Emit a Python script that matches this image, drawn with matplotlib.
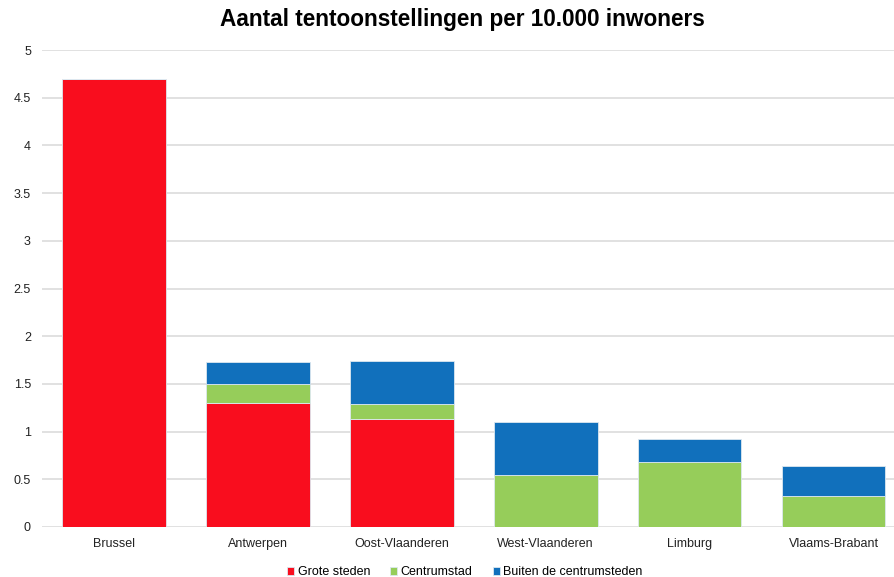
import matplotlib
matplotlib.use("Agg")
import matplotlib.pyplot as plt
import numpy as np

plt.rcParams['font.family'] = ['Liberation Sans', 'DejaVu Sans']

provinces = ['Brussel', 'Antwerpen', 'Oost-Vlaanderen', 'West-Vlaanderen',
             'Limburg', 'Vlaams-Brabant']
grote_steden = [4.70, 1.30, 1.13, 0.0, 0.0, 0.0]
centrumstad = [0.0, 0.20, 0.16, 0.54, 0.68, 0.32]
buiten = [0.0, 0.23, 0.45, 0.56, 0.24, 0.315]
series_names = ['Grote steden', 'Centrumstad', 'Buiten de centrumsteden']
colors = ['#F90D1E', '#96CD5A', '#1170BC']

fig = plt.figure(figsize=(8.94, 5.77), dpi=100)
ax = fig.add_axes([0.047, 0.0867, 0.953, 0.8266])

x = np.arange(len(provinces))
bottom = np.zeros(len(provinces))
for vals, name, col in zip([grote_steden, centrumstad, buiten], series_names, colors):
    vals = np.array(vals)
    ax.bar(x, vals, 0.72, bottom=bottom, color=col, label=name,
           edgecolor='#dde8f0', linewidth=0.6, zorder=3)
    bottom += vals

ax.set_xlim(-0.5, 5.42)
ax.set_ylim(0, 5)
ax.set_yticks(np.arange(0, 5.01, 0.5))
ax.set_yticklabels(['0', '0.5', '1', '1.5', '2', '2.5', '3', '3.5', '4', '4.5', '5'])
ax.set_xticks(x)
ax.set_xticklabels(provinces)
ax.tick_params(axis='both', length=0, labelsize=9, colors='#222222')
ax.tick_params(axis='y', pad=8)
ax.tick_params(axis='x', pad=8)
ax.grid(axis='y', color='#dcdcdc', linewidth=1.2, zorder=0)
for s in ax.spines.values():
    s.set_visible(False)

fig.text(0.5176, 0.955, 'Aantal tentoonstellingen per 10.000 inwoners',
         fontsize=16.3, fontweight='bold', ha='center', va='baseline')

fig.legend(loc='lower center', ncol=3, frameon=False, fontsize=9,
           bbox_to_anchor=(0.52, -0.022), handlelength=0.55, handleheight=0.55,
           handletextpad=0.3, columnspacing=1.6)

fig.savefig('out.png', dpi=100)
